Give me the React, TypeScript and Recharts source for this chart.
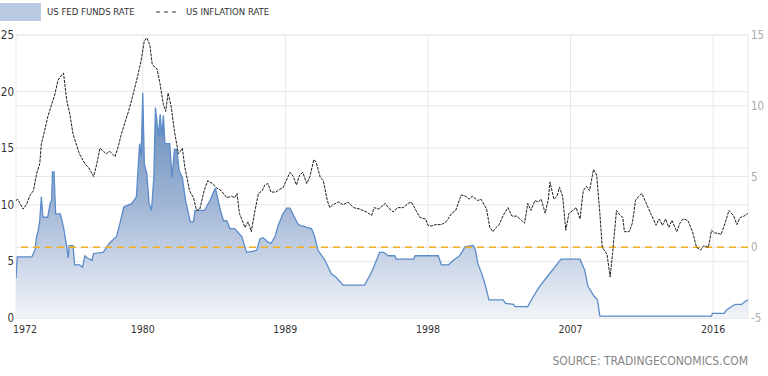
import React from "react";
import {
  ComposedChart,
  Area,
  Line,
  XAxis,
  YAxis,
  CartesianGrid,
  ReferenceLine,
} from "recharts";

// US fed funds rate (left axis)
const fedYears = [
  1972.0, 1972.08, 1973.0, 1973.2, 1973.3, 1973.4, 1973.5, 1973.6, 1973.7, 1974.0,
  1974.15, 1974.25, 1974.3, 1974.4, 1974.5, 1974.8, 1975.0, 1975.2, 1975.3, 1975.35,
  1975.6, 1975.7, 1976.0, 1976.2, 1976.35, 1976.5, 1976.8, 1976.9, 1977.5, 1977.9,
  1978.35, 1978.55, 1978.8, 1979.3, 1979.6, 1979.8, 1979.9, 1980.0, 1980.1, 1980.25,
  1980.4, 1980.55, 1980.7, 1980.8, 1981.0, 1981.1, 1981.2, 1981.3, 1981.4, 1981.7,
  1981.85, 1982.0, 1982.15, 1982.3, 1982.5, 1982.7, 1983.0, 1983.2, 1983.3, 1983.9,
  1984.25, 1984.55, 1984.6, 1984.9, 1985.1, 1985.3, 1985.5, 1985.8, 1986.25, 1986.55,
  1987.0, 1987.2, 1987.4, 1987.6, 1987.9, 1988.1, 1988.35, 1988.55, 1988.85, 1989.1,
  1989.3, 1989.5, 1989.8, 1989.9, 1990.35, 1990.65, 1990.85, 1991.05, 1991.5, 1991.9,
  1992.2, 1992.65, 1994.0, 1994.35, 1994.55, 1994.75, 1994.95, 1995.2, 1995.5, 1995.9,
  1996.0, 1997.1, 1997.2, 1998.65, 1998.85, 1999.3, 1999.6, 2000.0, 2000.35, 2000.85,
  2001.0, 2001.15, 2001.4, 2001.6, 2001.85, 2002.75, 2002.9, 2003.4, 2003.5, 2004.3,
  2004.65, 2005.05, 2005.5, 2006.0, 2006.4, 2007.6, 2007.9, 2008.1, 2008.5, 2008.7,
  2008.85, 2015.9, 2015.95, 2016.7, 2016.85, 2017.15, 2017.4, 2017.8, 2017.95, 2018.2,
];
const fedRates = [
  3.5, 5.4, 5.4, 6.0, 7.2, 7.7, 8.6, 10.7, 8.9, 8.9,
  10.1, 10.4, 12.9, 12.9, 9.2, 9.2, 8.0, 6.3, 5.3, 6.4,
  6.4, 4.7, 4.7, 4.5, 5.5, 5.3, 5.1, 5.7, 5.8, 6.6,
  7.2, 8.3, 9.8, 10.1, 10.7, 15.4, 14.2, 19.9, 13.6, 12.8,
  10.1, 9.5, 12.4, 18.6, 16.0, 18.0, 16.0, 17.9, 15.4, 15.4,
  12.4, 14.9, 14.9, 13.0, 12.4, 10.4, 8.5, 8.5, 9.5, 9.5,
  10.4, 11.4, 11.4, 9.5, 8.6, 8.6, 7.9, 7.9, 7.2, 5.8,
  5.9, 6.0, 7.0, 7.1, 6.7, 6.6, 7.2, 8.2, 9.2, 9.7,
  9.7, 9.1, 8.3, 8.2, 8.0, 7.9, 7.2, 6.0, 5.1, 3.9,
  3.6, 2.9, 2.9, 3.8, 4.4, 5.1, 5.8, 5.8, 5.5, 5.5,
  5.2, 5.2, 5.5, 5.5, 4.7, 4.7, 5.1, 5.5, 6.3, 6.4,
  6.0, 4.8, 3.9, 3.0, 1.6, 1.6, 1.3, 1.2, 1.0, 1.0,
  1.9, 2.8, 3.6, 4.5, 5.2, 5.2, 4.2, 2.8, 1.9, 1.6,
  0.16, 0.16, 0.4, 0.4, 0.7, 1.0, 1.2, 1.2, 1.4, 1.6,
];

// US inflation rate (right axis)
const cpiYears = [
  1972.0, 1972.1, 1972.45, 1972.65, 1972.9, 1973.1, 1973.3, 1973.5, 1973.6, 1973.8,
  1974.0, 1974.25, 1974.45, 1974.65, 1974.9, 1975.0, 1975.2, 1975.4, 1975.6, 1975.8,
  1976.0, 1976.35, 1976.6, 1976.9, 1977.1, 1977.3, 1977.5, 1977.7, 1977.9, 1978.25,
  1978.45, 1978.65, 1978.9, 1979.1, 1979.3, 1979.5, 1979.7, 1979.9, 1980.1, 1980.25,
  1980.45, 1980.6, 1980.9, 1981.1, 1981.3, 1981.45, 1981.6, 1981.8, 1982.0, 1982.25,
  1982.5, 1982.65, 1982.95, 1983.2, 1983.4, 1983.6, 1983.9, 1984.1, 1984.4, 1984.65,
  1984.95, 1985.3, 1985.6, 1985.8, 1985.95, 1986.1, 1986.35, 1986.45, 1986.65, 1986.85,
  1987.05, 1987.3, 1987.55, 1987.7, 1987.9, 1988.1, 1988.4, 1988.65, 1988.85, 1989.05,
  1989.3, 1989.5, 1989.7, 1989.9, 1990.1, 1990.35, 1990.55, 1990.8, 1990.95, 1991.2,
  1991.4, 1991.65, 1991.8, 1992.0, 1992.35, 1992.65, 1992.95, 1993.3, 1993.7, 1994.1,
  1994.45, 1994.6, 1994.9, 1995.3, 1995.5, 1995.8, 1996.1, 1996.45, 1996.75, 1996.95,
  1997.2, 1997.5, 1997.85, 1998.0, 1998.2, 1998.5, 1998.85, 1999.15, 1999.5, 1999.75,
  2000.1, 2000.4, 2000.6, 2000.8, 2001.15, 2001.35, 2001.7, 2001.9, 2002.1, 2002.3,
  2002.5, 2002.75, 2003.05, 2003.3, 2003.6, 2003.9, 2004.1, 2004.3, 2004.5, 2004.75,
  2004.95, 2005.15, 2005.4, 2005.6, 2005.7, 2005.95, 2006.15, 2006.3, 2006.5, 2006.7,
  2006.9, 2007.15, 2007.35, 2007.6, 2007.8, 2008.0, 2008.2, 2008.45, 2008.65, 2008.85,
  2009.0, 2009.3, 2009.5, 2009.65, 2009.9, 2010.1, 2010.3, 2010.4, 2010.7, 2010.9,
  2011.1, 2011.3, 2011.5, 2011.7, 2011.9, 2012.1, 2012.4, 2012.6, 2012.8, 2013.0,
  2013.2, 2013.4, 2013.7, 2013.9, 2014.1, 2014.4, 2014.7, 2014.95, 2015.2, 2015.4,
  2015.7, 2015.9, 2016.1, 2016.3, 2016.5, 2016.75, 2017.0, 2017.3, 2017.5, 2017.7,
  2017.95, 2018.2,
];
const cpiRates = [
  3.3, 3.4, 2.7, 3.0, 3.7, 4.0, 5.2, 5.9, 7.3, 8.2,
  9.2, 10.1, 10.8, 11.8, 12.2, 12.3, 10.4, 9.4, 8.0, 7.3,
  6.6, 5.9, 5.6, 5.0, 5.9, 7.0, 6.8, 6.6, 6.8, 6.4,
  7.1, 8.0, 8.9, 9.6, 10.4, 11.3, 12.2, 13.2, 14.6, 14.8,
  14.3, 12.9, 12.6, 11.5, 10.1, 9.6, 10.9, 9.9, 8.2, 6.6,
  7.0, 5.7, 4.0, 3.5, 2.6, 2.7, 4.1, 4.7, 4.5, 4.2,
  4.0, 3.5, 3.6, 3.5, 3.8, 2.4, 1.7, 1.4, 1.8, 1.1,
  2.4, 3.8, 4.0, 4.4, 4.5, 3.9, 3.9, 4.1, 4.2, 4.7,
  5.3, 5.0, 4.4, 5.1, 5.3, 4.5, 5.0, 6.2, 6.0, 4.95,
  4.7, 3.3, 2.8, 3.0, 3.2, 3.0, 3.2, 2.8, 2.7, 2.5,
  2.25, 2.8, 2.7, 3.1, 2.8, 2.5, 2.8, 2.8, 3.1, 3.2,
  2.7, 2.1, 2.0, 1.55, 1.5, 1.6, 1.6, 1.8, 2.4, 2.6,
  3.7, 3.6, 3.4, 3.6, 3.3, 3.4, 2.7, 1.4, 1.1, 1.4,
  1.6, 2.25, 2.8, 2.2, 2.2, 1.9, 1.7, 3.1, 2.6, 3.3,
  3.2, 3.4, 2.4, 3.4, 4.6, 3.4, 3.6, 4.25, 3.6, 1.2,
  2.4, 2.6, 2.8, 2.0, 4.0, 4.3, 4.0, 5.5, 5.1, 2.4,
  0.0, -0.5, -2.1, -0.45, 2.6, 2.3, 2.1, 1.1, 1.1, 1.7,
  3.3, 3.6, 3.8, 3.3, 2.8, 2.3, 1.55, 2.0, 1.55, 2.0,
  1.4, 1.9, 1.1, 1.7, 2.0, 1.9, 1.1, 0.0, -0.2, 0.1,
  0.0, 1.2, 1.0, 1.0, 0.9, 1.7, 2.6, 2.2, 1.6, 2.1,
  2.2, 2.4,
];

const yearTicks = [1972, 1980, 1989, 1998, 2007, 2016];
const leftTicks = [0, 5, 10, 15, 20, 25];
const rightTicks = [-5, 0, 5, 10, 15];

const fedData = fedYears.map((t, i) => ({ t, fed: fedRates[i] }));
const cpiData = cpiYears.map((t, i) => ({ t, cpi: cpiRates[i] }));

const FONT = "'Liberation Sans Narrow', 'DejaVu Sans Condensed', 'Liberation Sans', sans-serif";

// first year label sits inside the plot instead of hanging off the left edge
function YearTick(props: any) {
  const { x, y, payload, index } = props;
  const first = index === 0;
  return (
    <text
      x={first ? x - 3 : x}
      y={y}
      dy="0.71em"
      textAnchor={first ? "start" : "middle"}
      fill="#333"
      fontSize={10.5}
      fontFamily={FONT}
    >
      {payload.value}
    </text>
  );
}

export default function App() {
  return (
    <div
      style={{
        position: "absolute",
        left: 0,
        top: 0,
        width: 768,
        height: 376,
        background: "#fff",
        fontFamily: FONT,
      }}
    >
      {/* legend */}
      <div style={{ position: "absolute", left: 0, top: 3, width: 41, height: 18, background: "#b9cae2" }} />
      <div style={{ position: "absolute", left: 47, top: 7, fontSize: 9.5, color: "#333", lineHeight: "10px" }}>
        US FED FUNDS RATE
      </div>
      <svg style={{ position: "absolute", left: 156, top: 10 }} width={24} height={4}>
        <line x1={0} y1={2} x2={24} y2={2} stroke="#333" strokeWidth={1.2} strokeDasharray="4 4" />
      </svg>
      <div style={{ position: "absolute", left: 186, top: 7, fontSize: 9.5, color: "#333", lineHeight: "10px" }}>
        US INFLATION RATE
      </div>

      <ComposedChart width={768} height={376} margin={{ top: 35, right: 0, bottom: 38, left: 0 }}>
        <defs>
          <linearGradient id="fedFill" x1="0" y1="0" x2="0" y2="1">
            <stop offset="0%" stopColor="#5f84b8" stopOpacity={0.95} />
            <stop offset="15%" stopColor="#6d8fbd" stopOpacity={0.95} />
            <stop offset="50%" stopColor="#9cb2d3" stopOpacity={0.95} />
            <stop offset="69%" stopColor="#bac9e0" stopOpacity={0.9} />
            <stop offset="100%" stopColor="#f0f3f8" stopOpacity={0.9} />
          </linearGradient>
        </defs>
        <CartesianGrid yAxisId="left" stroke="#e8e8e8" vertical horizontal />
        <CartesianGrid yAxisId="right" stroke="#e8e8e8" vertical={false} horizontal />
        <XAxis
          dataKey="t"
          type="number"
          domain={[1972, 2018.2]}
          ticks={yearTicks}
          interval={0}
          allowDataOverflow
          axisLine={false}
          tickLine={false}
          tickSize={0}
          tickMargin={8}
          height={20}
          tick={<YearTick />}
        />
        <YAxis
          yAxisId="left"
          orientation="left"
          domain={[0, 25]}
          ticks={leftTicks}
          interval={0}
          width={16}
          axisLine={false}
          tickLine={false}
          tickSize={0}
          tickMargin={2}
          tick={{ fill: "#333", fontSize: 11.5, fontFamily: FONT }}
        />
        <YAxis
          yAxisId="right"
          orientation="right"
          domain={[-5, 15]}
          ticks={rightTicks}
          interval={0}
          width={20}
          axisLine={false}
          tickLine={false}
          tickSize={0}
          tickMargin={3}
          tick={{ fill: "#aaa", fontSize: 11.5, fontFamily: FONT }}
        />
        <Area
          yAxisId="left"
          data={fedData}
          dataKey="fed"
          type="linear"
          stroke="#5b8bc9"
          strokeWidth={1.3}
          fill="url(#fedFill)"
          fillOpacity={1}
          isAnimationActive={false}
          dot={false}
          activeDot={false}
        />
        <ReferenceLine
          yAxisId="right"
          y={0}
          stroke="#f2b01e"
          strokeWidth={1.5}
          strokeDasharray="7 5"
        />
        <Line
          yAxisId="right"
          data={cpiData}
          dataKey="cpi"
          type="linear"
          stroke="#1e1e1e"
          strokeWidth={1}
          strokeDasharray="3 1"
          dot={false}
          activeDot={false}
          isAnimationActive={false}
        />
      </ComposedChart>

      <div
        style={{
          position: "absolute",
          right: 20,
          top: 355,
          fontSize: 12,
          lineHeight: "12px",
          color: "#858585",
        }}
      >
        SOURCE: TRADINGECONOMICS.COM
      </div>
    </div>
  );
}
